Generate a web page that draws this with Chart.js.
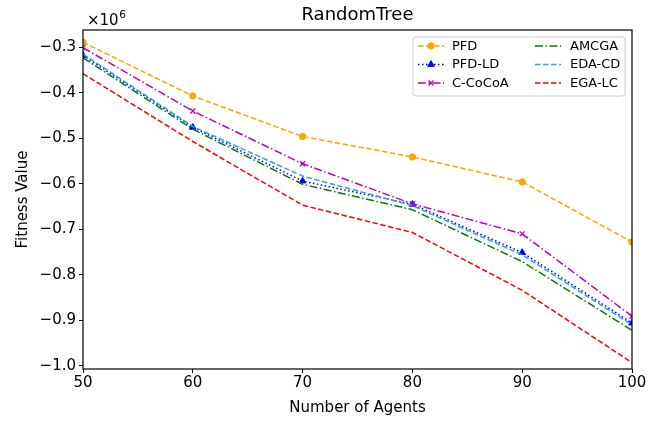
<!DOCTYPE html>
<html>
<head>
<meta charset="utf-8">
<script src="https://cdn.jsdelivr.net/npm/chart.js@4/dist/chart.umd.min.js"></script>
<style>
html,body{margin:0;padding:0;background:#fff;}
#wrap{width:661px;height:421px;position:relative;}
</style>
</head>
<body>
<div id="wrap"><canvas id="c" width="661" height="421"></canvas></div>
<script>
const chartTitle = "RandomTree";
const agents = [50, 60, 70, 80, 90, 100];
const xTicks = [50, 60, 70, 80, 90, 100];
const yTicks = [-0.3, -0.4, -0.5, -0.6, -0.7, -0.8, -0.9, -1.0];
const seriesNames = ["PFD", "PFD-LD", "C-CoCoA", "AMCGA", "EDA-CD", "EGA-LC"];
const pfd     = [-0.289, -0.407, -0.496, -0.541, -0.596, -0.728];
const pfdLd   = [-0.318, -0.476, -0.594, -0.645, -0.751, -0.906];
const cCocoa  = [-0.301, -0.440, -0.556, -0.644, -0.710, -0.891];
const amcga   = [-0.323, -0.480, -0.601, -0.657, -0.771, -0.922];
const edaCd   = [-0.315, -0.474, -0.583, -0.648, -0.756, -0.910];
const egaLc   = [-0.358, -0.507, -0.647, -0.707, -0.834, -0.993];

const FONT = "'DejaVu Sans', sans-serif";
const styles = [
  {color:'#FFA500', dash:[5.5,2.5], point:'circle', r:3.2},
  {color:'#0000FF', dash:[1.5,2.5], point:'triangle', r:3.8},
  {color:'#BF00BF', dash:[8,2.5,1.5,2.5], point:'crossRot', r:3.5},
  {color:'#008000', dash:[8,2.5,1.5,2.5], point:false, r:0},
  {color:'#2AA0F5', dash:[5.5,2.5], point:false, r:0},
  {color:'#FF0000', dash:[5.5,2.5], point:false, r:0}
];
const allValues = [pfd, pfdLd, cCocoa, amcga, edaCd, egaLc];

const datasets = allValues.map((vals, i) => ({
  label: seriesNames[i],
  data: agents.map((a, j) => ({x: a, y: vals[j]})),
  borderColor: styles[i].color,
  backgroundColor: styles[i].color,
  borderDash: styles[i].dash,
  borderWidth: 1.5,
  pointStyle: styles[i].point,
  pointRadius: styles[i].r,
  pointHoverRadius: styles[i].r,
  pointBorderWidth: styles[i].point === 'crossRot' ? 1.3 : 1,
  fill: false,
  tension: 0,
  order: allValues.length - i
}));

function drawMarker(ctx, ds, x, y) {
  ctx.save();
  ctx.fillStyle = ds.backgroundColor;
  ctx.strokeStyle = ds.borderColor;
  ctx.lineWidth = ds.pointBorderWidth;
  ctx.setLineDash([]);
  Chart.helpers.drawPoint(ctx, {pointStyle: ds.pointStyle, radius: ds.pointRadius, borderWidth: ds.pointBorderWidth, rotation: 0}, x, y);
  ctx.restore();
}

const framePlugin = {
  id: 'frame',
  afterDraw(chart) {
    const ctx = chart.ctx, a = chart.chartArea;
    ctx.save();
    ctx.strokeStyle = '#000';
    ctx.lineWidth = 1.2;
    ctx.setLineDash([]);
    ctx.strokeRect(a.left, a.top, a.right - a.left, a.bottom - a.top);
    // title centred over plot area
    ctx.fillStyle = '#000';
    ctx.font = "18px " + FONT;
    ctx.textAlign = 'center';
    ctx.textBaseline = 'middle';
    ctx.fillText(chartTitle, (a.left + a.right) / 2, 15);
    // multiplier text
    ctx.textBaseline = 'alphabetic';
    ctx.textAlign = 'left';
    ctx.font = "15px " + FONT;
    ctx.fillText('×10', a.left + 4, a.top - 5);
    const w = ctx.measureText('×10').width;
    ctx.font = "10.5px " + FONT;
    ctx.fillText('6', a.left + 4 + w + 0.5, a.top - 12);

    // legend
    const bx = 413, by = 37, bw = 212, bh = 59, rad = 3;
    ctx.beginPath();
    ctx.moveTo(bx + rad, by);
    ctx.lineTo(bx + bw - rad, by);
    ctx.quadraticCurveTo(bx + bw, by, bx + bw, by + rad);
    ctx.lineTo(bx + bw, by + bh - rad);
    ctx.quadraticCurveTo(bx + bw, by + bh, bx + bw - rad, by + bh);
    ctx.lineTo(bx + rad, by + bh);
    ctx.quadraticCurveTo(bx, by + bh, bx, by + bh - rad);
    ctx.lineTo(bx, by + rad);
    ctx.quadraticCurveTo(bx, by, bx + rad, by);
    ctx.closePath();
    ctx.fillStyle = 'rgba(255,255,255,0.85)';
    ctx.fill();
    ctx.strokeStyle = '#cccccc';
    ctx.lineWidth = 1;
    ctx.stroke();

    const cols = [{lx:418, tx:452}, {lx:535, tx:570}];
    const rows = [46, 64.5, 83];
    chart.data.datasets.forEach((ds, i) => {
      const c = cols[Math.floor(i / 3)], y = rows[i % 3];
      ctx.beginPath();
      ctx.setLineDash(ds.borderDash);
      ctx.strokeStyle = ds.borderColor;
      ctx.lineWidth = 1.5;
      ctx.moveTo(c.lx, y);
      ctx.lineTo(c.lx + 26, y);
      ctx.stroke();
      ctx.setLineDash([]);
      if (ds.pointStyle) drawMarker(ctx, ds, c.lx + 13, y);
      ctx.fillStyle = '#000';
      ctx.font = "13px " + FONT;
      ctx.textAlign = 'left';
      ctx.textBaseline = 'middle';
      ctx.fillText(ds.label, c.tx, y + 0.5);
    });
    ctx.restore();
  }
};

new Chart(document.getElementById('c'), {
  type: 'line',
  data: { datasets },
  plugins: [framePlugin],
  options: {
    responsive: false,
    animation: false,
    devicePixelRatio: 1,
    layout: { padding: { left: 0, right: 29, top: 30, bottom: 0 } },
    plugins: {
      legend: { display: false },
      tooltip: { enabled: false },
      title: { display: false }
    },
    scales: {
      x: {
        type: 'linear',
        min: 50, max: 100,
        afterBuildTicks(scale) { scale.ticks = xTicks.map(v => ({value: v})); },
        afterFit(scale) { scale.height = 52; },
        grid: { display: true, drawOnChartArea: false, drawTicks: true, tickLength: 4, color: '#000', tickWidth: 1 },
        border: { display: false },
        ticks: { color: '#000', font: { family: FONT, size: 15 }, padding: 1, maxRotation: 0, autoSkip: false, callback: v => String(v) },
        title: { display: true, text: 'Number of Agents', color: '#000', font: { family: FONT, size: 15 }, padding: { top: 0, bottom: 4 } }
      },
      y: {
        type: 'linear',
        min: -1.007, max: -0.262,
        afterBuildTicks(scale) { scale.ticks = yTicks.map(v => ({value: v})); },
        afterFit(scale) { scale.width = 83; },
        grid: { display: true, drawOnChartArea: false, drawTicks: true, tickLength: 4, color: '#000', tickWidth: 1 },
        border: { display: false },
        ticks: { color: '#000', font: { family: FONT, size: 15 }, padding: 3, autoSkip: false,
          callback: v => '\u2212' + Math.abs(v).toFixed(1) },
        title: { display: true, text: 'Fitness Value', color: '#000', font: { family: FONT, size: 15 }, padding: { top: 14, bottom: 0 } }
      }
    }
  }
});
</script>
</body>
</html>
